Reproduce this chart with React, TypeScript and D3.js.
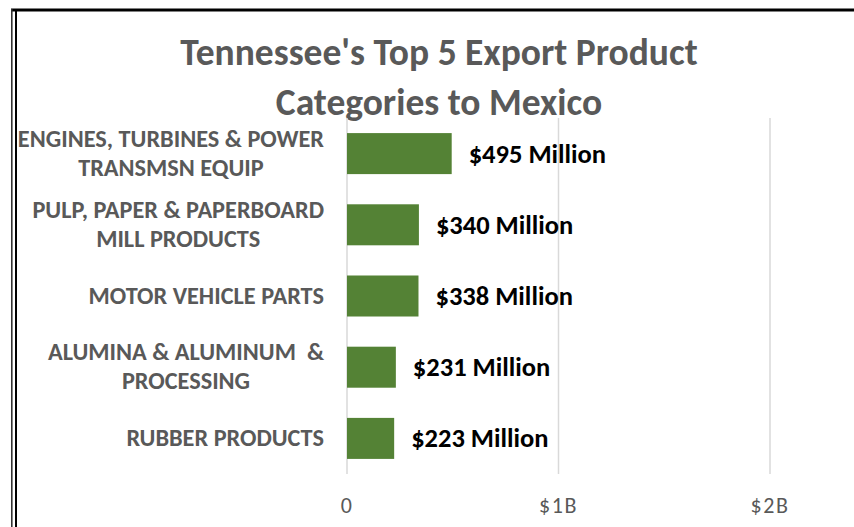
import React, { useEffect, useRef } from "react";
import * as d3 from "d3";

const titleLines = ["Tennessee's Top 5 Export Product", "Categories to Mexico"];
const categories = [
  "ENGINES, TURBINES & POWER\nTRANSMSN EQUIP",
  "PULP, PAPER & PAPERBOARD\nMILL PRODUCTS",
  "MOTOR VEHICLE PARTS",
  "ALUMINA & ALUMINUM  &\nPROCESSING",
  "RUBBER PRODUCTS",
];
const values = [495, 340, 338, 231, 223]; // $ millions
const tickValues = [0, 1000, 2000];
const tickLabels = ["0", "$1B", "$2B"];

const W = 854;
const H = 527;
const FONT = "Carlito, Calibri, Lato, 'Open Sans', sans-serif";
const GRAY = "#595959";
const GREEN = "#548235";

export default function App() {
  const ref = useRef<SVGSVGElement>(null);

  useEffect(() => {
    const svg = d3.select(ref.current);
    svg.selectAll("*").remove();

    const x = d3.scaleLinear().domain([0, 2000]).range([347, 770]);
    const y = d3
      .scaleBand<string>()
      .domain(categories)
      .range([118, 474])
      .paddingInner(0.424)
      .paddingOuter(0.212);

    // frame
    svg.append("rect").attr("x", 0).attr("y", 0).attr("width", W).attr("height", H).attr("fill", "#fff");
    svg.append("line").attr("x1", 11).attr("x2", W).attr("y1", 10).attr("y2", 10).attr("stroke", "#000").attr("stroke-width", 3);
    svg.append("line").attr("x1", 11.8).attr("x2", 11.8).attr("y1", 9).attr("y2", H).attr("stroke", "#333").attr("stroke-width", 1.6);
    svg.append("line").attr("x1", 16).attr("x2", 16).attr("y1", 9).attr("y2", H).attr("stroke", "#000").attr("stroke-width", 2);

    // title
    svg
      .append("g")
      .selectAll("text")
      .data(titleLines)
      .join("text")
      .attr("x", 439)
      .attr("y", (_d, i) => 65 + i * 50)
      .attr("text-anchor", "middle")
      .attr("font-family", FONT)
      .attr("font-weight", 700)
      .attr("font-size", 37.5)
      .attr("fill", GRAY)
      .text((d) => d);

    // gridlines
    svg
      .append("g")
      .selectAll("line")
      .data(tickValues)
      .join("line")
      .attr("x1", (d) => x(d))
      .attr("x2", (d) => x(d))
      .attr("y1", 118)
      .attr("y2", 474)
      .attr("stroke", "#d9d9d9")
      .attr("stroke-width", 1.5);

    // tick labels
    svg
      .append("g")
      .selectAll("text")
      .data(tickValues)
      .join("text")
      .attr("x", (d) => x(d))
      .attr("y", 513)
      .attr("text-anchor", "middle")
      .attr("font-family", FONT)
      .attr("font-size", 22)
      .attr("letter-spacing", 1.5)
      .attr("fill", GRAY)
      .text((_d, i) => tickLabels[i]);

    // bars
    svg
      .append("g")
      .selectAll("rect")
      .data(values)
      .join("rect")
      .attr("x", x(0))
      .attr("y", (_d, i) => y(categories[i])!)
      .attr("width", (d) => x(d) - x(0))
      .attr("height", y.bandwidth())
      .attr("fill", GREEN);

    // value labels
    svg
      .append("g")
      .selectAll("text")
      .data(values)
      .join("text")
      .attr("x", (d) => x(d) + 17)
      .attr("y", (_d, i) => y(categories[i])! + y.bandwidth() / 2 + 9)
      .attr("font-family", FONT)
      .attr("font-weight", 700)
      .attr("font-size", 26.5)
      .attr("fill", "#000")
      .text((d) => `$${d} Million`);

    // category labels
    const right = 324;
    categories.forEach((c) => {
      const lines = c.split("\n");
      const cy = y(c)! + y.bandwidth() / 2;
      const g = svg.append("g");
      const texts = g
        .selectAll("text")
        .data(lines)
        .join("text")
        .attr("y", (_d, i) => cy + 7.5 + (i - (lines.length - 1) / 2) * 29)
        .attr("text-anchor", "middle")
        .attr("font-family", FONT)
        .attr("font-weight", 700)
        .attr("font-size", 24.3)
        .attr("fill", GRAY)
        .attr("xml:space", "preserve")
        .style("white-space", "pre")
        .text((d) => d);
      let maxW = 0;
      texts.each(function () {
        maxW = Math.max(maxW, (this as SVGTextElement).getComputedTextLength());
      });
      texts.attr("x", right - maxW / 2);
    });
  }, []);

  return (
    <svg
      ref={ref}
      width={W}
      height={H}
      style={{ position: "absolute", left: 0, top: 0, display: "block" }}
    />
  );
}
